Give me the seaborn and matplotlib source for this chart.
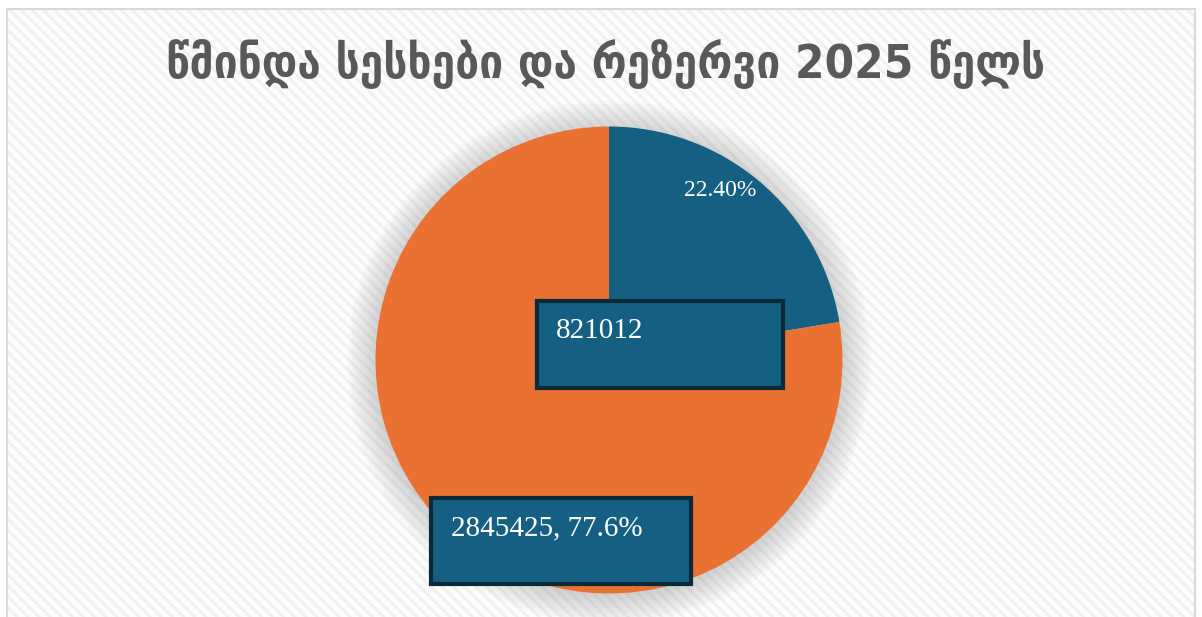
import numpy as np
import seaborn as sns
import matplotlib.pyplot as plt
from matplotlib.patches import Rectangle, Circle

# data
categories = ["რეზერვი", "წმინდა სესხები"]
values = [821012, 2845425]
percents = [22.40, 77.6]
colors = ["#156082", "#E97132"]
title = "წმინდა სესხები და რეზერვი 2025 წელს"

sns.set_theme(style="white")
plt.rcParams["font.family"] = ["DejaVu Sans"]
plt.rcParams["hatch.linewidth"] = 2.0

W, H = 1202, 617
fig = plt.figure(figsize=(W / 100, H / 100), dpi=100)
fig.patch.set_facecolor("white")

# striped chart area + frame
fig.patches.append(Rectangle((7 / W, 0), 1188 / W, 1 - 9 / H, transform=fig.transFigure,
                             facecolor="#fcfcfc", edgecolor="#f0f0f0", hatch="\\\\\\", lw=0, zorder=-10))
fig.patches.append(Rectangle((7 / W, -0.01), 1188 / W, 1.01 - 9 / H, transform=fig.transFigure,
                             facecolor="none", edgecolor="#d9d9d9", lw=1.5, zorder=-9))

# pie axes: centre (609, 360) px, radius 233.5 px
cx, cy, r = 609, 360, 233.5
ax = fig.add_axes([(cx - r) / W, (H - cy - r) / H, 2 * r / W, 2 * r / H])
ax.set_zorder(5)
ax.patch.set_alpha(0)

# soft shadow
for rr in np.linspace(1.12, 1.0, 10):
    ax.add_patch(Circle((0, -0.01), rr, color="#9a9a9a", alpha=0.05, lw=0, clip_on=False, zorder=0))

wedges, _ = ax.pie(values, colors=colors, startangle=90, counterclock=False,
                   wedgeprops=dict(linewidth=0, zorder=2))
ax.set_xlim(-1, 1)
ax.set_ylim(-1, 1)
ax.set_aspect("equal")
ax.axis("off")

def px(x, y):
    return (x - cx) / r, (cy - y) / r

serif = ["Liberation Serif", "DejaVu Serif"]
box_fc, box_ec = "#156082", "#0b2a39"

# label for the small slice (percent inside the wedge)
ax.text(*px(720, 190), f"{percents[0]:.2f}%", color="white", fontsize=17, family=serif,
        ha="center", va="center", zorder=5)

# value box for the small slice
x0, y0 = px(537, 388)
x1, y1 = px(783, 301)
ax.add_patch(Rectangle((x0, y0), x1 - x0, y1 - y0, facecolor=box_fc, edgecolor=box_ec,
                       lw=3, clip_on=False, zorder=4))
ax.text(*px(556, 331), f"{values[0]}", color="white", fontsize=21, family=serif,
        ha="left", va="center", zorder=5)

# value + percent box for the large slice
x0, y0 = px(431, 584)
x1, y1 = px(691, 498)
ax.add_patch(Rectangle((x0, y0), x1 - x0, y1 - y0, facecolor=box_fc, edgecolor=box_ec,
                       lw=3, clip_on=False, zorder=4))
ax.text(*px(451, 528), f"{values[1]}, {percents[1]:.1f}%", color="white", fontsize=21, family=serif,
        ha="left", va="center", zorder=5)

fig.text(606 / W, 1 - 64 / H, title, color="#595959", fontsize=34, fontweight="bold",
         fontstretch="condensed", ha="center", va="center")

fig.savefig("out.png", dpi=100)
